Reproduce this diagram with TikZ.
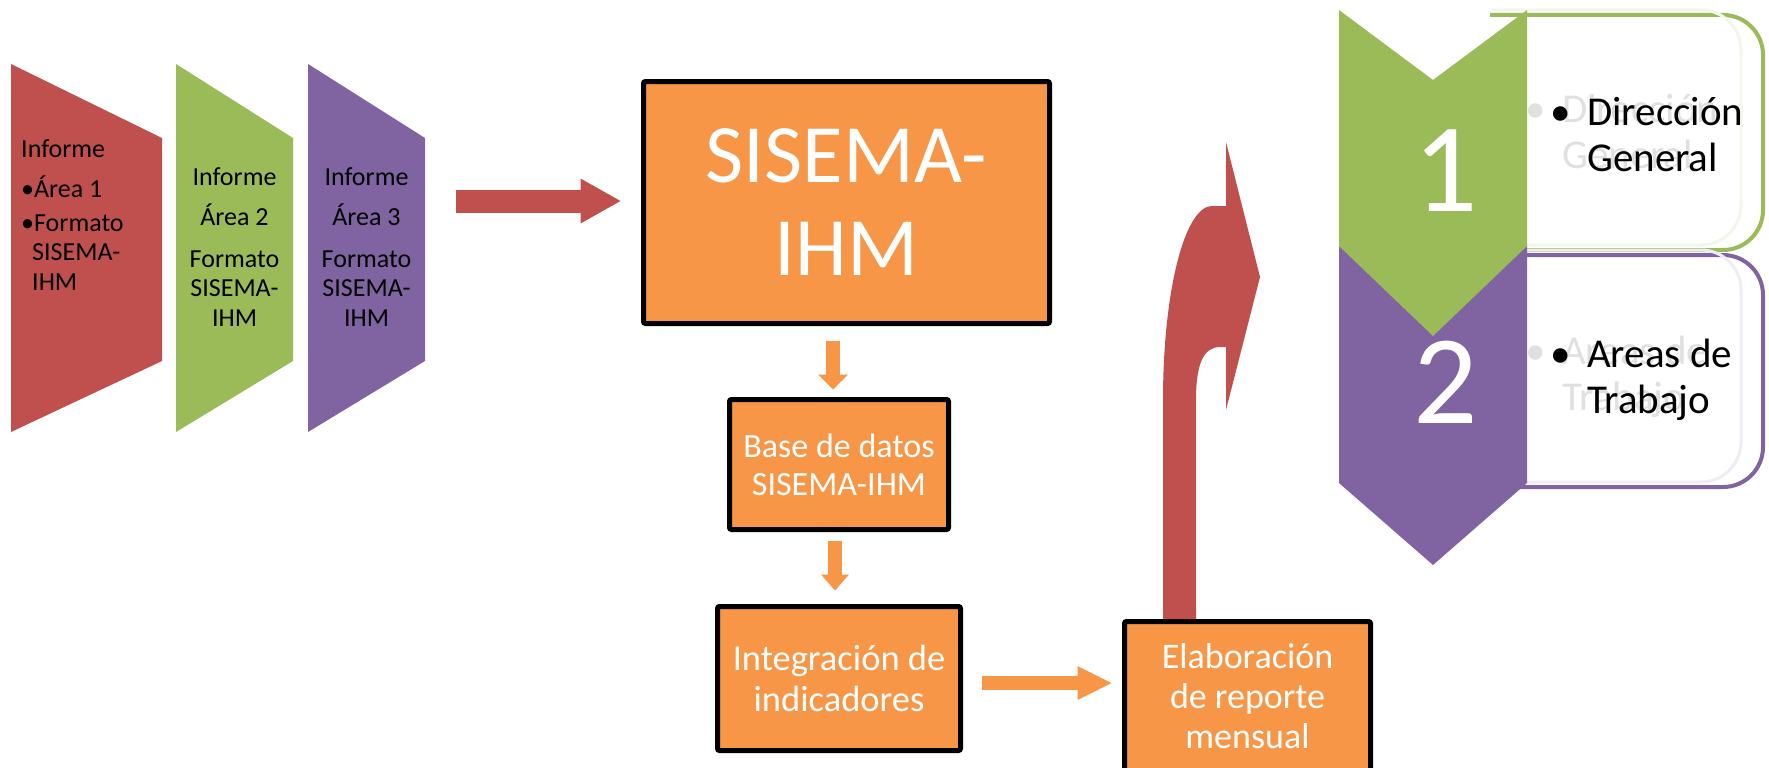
\documentclass[tikz,border=0pt]{standalone}
\usepackage{fontspec}
\setmainfont{Carlito}
\usetikzlibrary{arrows.meta,positioning,calc}

\definecolor{redc}{HTML}{C0504D}
\definecolor{greenc}{HTML}{9BBB59}
\definecolor{purplec}{HTML}{8064A2}
\definecolor{orangec}{HTML}{F79646}

\tikzset{
  box/.style={draw=black,line width=5pt,fill=orangec,rounded corners=2pt,
    text=white,align=center,inner sep=0pt},
  informe/.style={inner sep=0pt,font=\fontsize{26}{29.5}\selectfont},
  listtext/.style={inner sep=0pt,anchor=north west,align=left,
    font=\fontsize{41}{46}\selectfont},
  ghost/.style={text=black!12},
  digit/.style={inner sep=0pt,anchor=base,text=white,
    font=\fontsize{127}{127}\selectfont},
  redarrow/.style={draw=redc,line width=23pt,
    -{Triangle[length=40pt,width=45pt,line width=0pt]}},
  orangearrow/.style 2 args={draw=orangec,line width=14pt,
    -{Triangle[length=#1,width=#2,line width=0pt]}},
  framebox/.style={line width=4pt,rounded corners=40pt}
}

\begin{document}
\begin{tikzpicture}[x=1pt,y=-1pt]
\useasboundingbox (0,0) rectangle (1769,768);
\clip (0,0) rectangle (1769,768);

% informes de area
\fill[redc] (11,64) -- (162,138) -- (162,361) -- (11,432) -- cycle;
\fill[greenc] (176,64) -- (293,138) -- (293,361) -- (176,432) -- cycle;
\fill[purplec] (308,64) -- (425,138) -- (425,361) -- (308,432) -- cycle;
\node[informe,anchor=north west,align=left] (inf1) at (21,139)
  {Informe\\[10.5pt]•Área 1\\[4.5pt]•Formato\\\hspace*{11pt}SISEMA-\\\hspace*{11pt}IHM};
\node[informe,anchor=north,align=center] (inf2) at (234.5,167)
  {Informe\\[10.5pt]Área 2\\[12.5pt]Formato\\SISEMA-\\IHM};
\node[informe,anchor=north,align=center] (inf3) at (366.5,167)
  {Informe\\[10.5pt]Área 3\\[12.5pt]Formato\\SISEMA-\\IHM};

% cajas del proceso
\node[box,minimum width=406pt,minimum height=242pt,
  font=\fontsize{83}{93}\selectfont] (sisema) at (846.5,202.5) {SISEMA-\\IHM};
\node[box,minimum width=219pt,minimum height=130pt,
  font=\fontsize{34}{38}\selectfont] (base) at (839,464.5) {Base de datos\\SISEMA-IHM};
\node[box,minimum width=243pt,minimum height=144pt,
  font=\fontsize{36.5}{41}\selectfont] (integ) at (839,678.5) {Integración de\\indicadores};
\node[box,minimum width=246pt,minimum height=150pt,
  font=\fontsize{36}{40}\selectfont] (elab) at (1247.5,696.5) {Elaboración\\de reporte\\mensual};

% flechas
\draw[redarrow] ($(sisema.west)+(-185.5,-1.5)$) -- ($(sisema.west)+(-20.5,-1.5)$);
\draw[orangearrow={15pt}{30pt}] ($(sisema.south)+(-13.5,14.5)$) -- ($(base.north)+(-6,-7.5)$);
\draw[orangearrow={16pt}{28pt}] ($(base.south)+(-4,8.5)$) -- ($(integ.north)+(-4,-13.5)$);
\draw[orangearrow={34pt}{34pt}] ($(integ.east)+(18.5,4.5)$) -- ($(integ.east -| elab.west)+(-10.5,4.5)$);

% flecha curva hacia las areas
\fill[redc] (1163,619) -- (1163,400) .. controls (1163,290) and (1185,206) .. (1212,206)
  -- (1226,206) -- (1226,142) -- (1260,277) -- (1226,410) -- (1226,347) -- (1220,347)
  .. controls (1203,347) and (1196,365) .. (1196,400) -- (1196,619) -- cycle;

% destinatarios
\draw[framebox,greenc,fill=white] (1490,15) -- (1763,15) -- (1763,250) -- (1490,250);
\draw[framebox,purplec,fill=white] (1490,255) -- (1763,255) -- (1763,487) -- (1490,487);
\draw[framebox,greenc!12,line width=3pt] (1490,10) -- (1741,10) -- (1741,245) -- (1490,245);
\draw[framebox,purplec!12,line width=3pt] (1490,250) -- (1741,250) -- (1741,482) -- (1490,482);

\fill[purplec] (1339,246) -- (1433,321) -- (1527,246) -- (1527,483) -- (1433,565) -- (1339,483) -- cycle;
\fill[greenc] (1339,10) -- (1433,80) -- (1527,10) -- (1527,246) -- (1433,336) -- (1339,246) -- cycle;

\node[listtext,ghost] (dirg) at (1525,94) {\makebox[37pt][l]{•}Dirección\\\hspace*{37pt}General};
\node[listtext,ghost] (areag) at (1525,336) {\makebox[37pt][l]{•}Areas de\\\hspace*{37pt}Trabajo};
\node[listtext] (dir) at (1550,97) {\makebox[37pt][l]{•}Dirección\\\hspace*{37pt}General};
\node[listtext] (area) at (1550,339) {\makebox[37pt][l]{•}Areas de\\\hspace*{37pt}Trabajo};

\node[digit] (n1) at (1446,211) {1};
\node[digit] (n2) at (1446,423) {2};
\end{tikzpicture}
\end{document}
